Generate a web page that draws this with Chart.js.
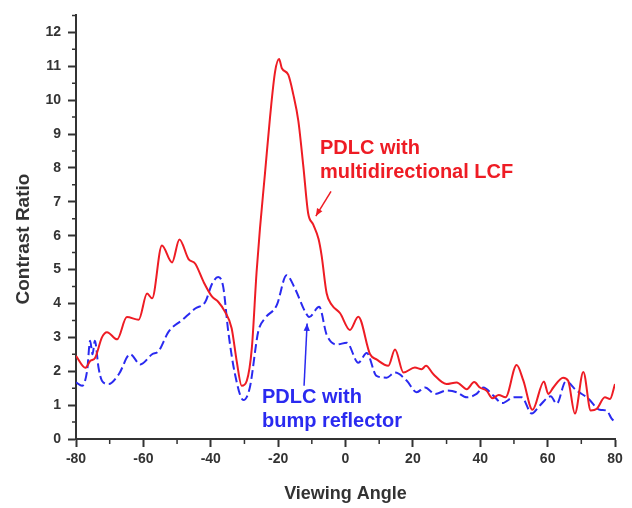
<!DOCTYPE html>
<html>
<head>
<meta charset="utf-8">
<script src="https://cdn.jsdelivr.net/npm/chart.js@4/dist/chart.umd.min.js"></script>
<style>
  html, body { margin: 0; padding: 0; background: #fff; }
  #wrap { width: 632px; height: 508px; }
</style>
</head>
<body>
<div id="wrap"><canvas id="chart"></canvas></div>
<script>
// PDLC with multidirectional LCF (red, solid)
const lcfAngle = [-80, -77.2, -75.8, -74.3, -72.3, -70.8, -67.8, -64.9, -61.4, -58.9, -57.4, -54.5, -51.5, -49.3, -46.6, -44.6, -42.1, -39.6, -37.8, -35.8, -33.8, -32.3, -30.8, -29.3, -27.8, -26.4, -25.4, -23.9, -22.4, -20.9, -19.7, -18.9, -17.0, -15.5, -14.0, -12.5, -11.1, -9.6, -8.0, -7.1, -5.6, -4.1, -1.6, 1.3, 3.8, 7.3, 9.2, 12.7, 14.7, 17.2, 20.6, 22.6, 23.9, 26.1, 30.0, 33.0, 36.0, 38.2, 39.9, 41.9, 43.6, 45.5, 47.5, 50.8, 52.8, 55.5, 58.9, 60.2, 61.7, 64.6, 66.1, 68.1, 70.6, 72.8, 74.6, 77.0, 78.5, 80];
const lcfRatio = [2.45, 2.1, 2.3, 2.4, 3.0, 3.15, 2.94, 3.6, 3.52, 4.29, 4.15, 5.71, 5.21, 5.89, 5.31, 5.17, 4.63, 4.2, 4.05, 3.76, 3.27, 2.3, 1.57, 1.72, 2.69, 4.92, 6.2, 7.84, 9.5, 10.84, 11.21, 10.94, 10.75, 10.17, 9.39, 8.03, 6.67, 6.33, 5.9, 5.42, 4.3, 3.96, 3.71, 3.22, 3.61, 2.5, 2.35, 2.16, 2.64, 1.96, 2.11, 2.06, 2.16, 1.91, 1.62, 1.67, 1.47, 1.68, 1.52, 1.42, 1.2, 1.3, 1.23, 2.18, 1.72, 0.86, 1.7, 1.33, 1.52, 1.81, 1.72, 0.75, 1.98, 0.84, 0.89, 1.23, 1.18, 1.62];

// PDLC with bump reflector (blue, dashed)
const bumpAngle = [-80, -78.2, -76.7, -75.8, -75.1, -74.4, -73.3, -72.3, -70.3, -67.3, -63.9, -60.9, -57.4, -55.5, -52.5, -48.5, -44.6, -41.6, -39.6, -37.8, -36.3, -34.8, -32.8, -30.3, -28.4, -25.9, -23.9, -20.4, -17.5, -15.0, -12.0, -10.8, -7.8, -5.6, -2.6, 0.4, 3.8, 6.3, 9.2, 12.2, 14.7, 18.2, 21.1, 23.6, 26.6, 30.0, 33.0, 36.0, 38.9, 40.9, 43.9, 46.5, 50.0, 52.3, 55.3, 57.7, 60.9, 62.7, 65.4, 68.6, 72.0, 75.5, 77.5, 79.0, 80];
const bumpRatio = [1.67, 1.57, 2.01, 2.9, 2.5, 2.9, 2.1, 1.72, 1.62, 1.91, 2.5, 2.2, 2.5, 2.59, 3.17, 3.51, 3.85, 4.05, 4.58, 4.78, 4.49, 3.17, 1.91, 1.15, 1.52, 3.17, 3.56, 3.95, 4.83, 4.44, 3.76, 3.6, 3.9, 3.08, 2.79, 2.84, 2.25, 2.54, 1.86, 1.81, 1.96, 1.72, 1.38, 1.52, 1.33, 1.43, 1.38, 1.23, 1.33, 1.52, 1.28, 1.06, 1.23, 1.23, 0.75, 0.99, 1.26, 1.04, 1.7, 1.43, 1.2, 0.86, 0.84, 0.6, 0.5];

const xTicks = [-80, -60, -40, -20, 0, 20, 40, 60, 80];
const yTicks = [0, 1, 2, 3, 4, 5, 6, 7, 8, 9, 10, 11, 12];

const red = "#ee1c24";
const blue = "#2a2af0";
const axisColor = "#333";

function pts(xs, ys) {
  return xs.map((x, i) => ({x: x, y: ys[i]}));
}

// notes placed in data units, converted through the scales
const notes = [
  {lines: ["PDLC with", "multidirectional LCF"], x: -7.6, y: 8.42, color: red, arrow: [-4.3, 7.31, -8.8, 6.58]},
  {lines: ["PDLC with", "bump reflector"], x: -24.8, y: 1.05, color: blue, arrow: [-12.3, 1.57, -11.4, 3.41]}
];

const extras = {
  id: "extras",
  afterDraw(chart) {
    const ctx = chart.ctx;
    const xs = chart.scales.x, ys = chart.scales.y;
    const base = ys.getPixelForValue(0), left = xs.getPixelForValue(-80);
    ctx.save();
    // minor ticks
    ctx.strokeStyle = axisColor;
    ctx.lineWidth = 1.5;
    ctx.beginPath();
    for (let v = -70; v <= 70; v += 20) {
      const p = xs.getPixelForValue(v);
      ctx.moveTo(p, base); ctx.lineTo(p, base + 5);
    }
    for (let v = 0.5; v <= 12.5; v += 1) {
      const p = ys.getPixelForValue(v);
      ctx.moveTo(left, p); ctx.lineTo(left - 4, p);
    }
    ctx.stroke();

    // y axis title, a bit below the centre like the original
    ctx.save();
    ctx.translate(24, ys.getPixelForValue(5.9));
    ctx.rotate(-Math.PI / 2);
    ctx.font = "bold 19px 'Liberation Sans', Arial, sans-serif";
    ctx.fillStyle = "#333";
    ctx.textAlign = "center";
    ctx.textBaseline = "middle";
    ctx.fillText("Contrast Ratio", 0, 0);
    ctx.restore();

    // labels and arrows
    ctx.font = "bold 20px 'Liberation Sans', Arial, sans-serif";
    ctx.textBaseline = "alphabetic";
    notes.forEach(n => {
      ctx.fillStyle = n.color;
      const tx = xs.getPixelForValue(n.x);
      const ty = ys.getPixelForValue(n.y);
      n.lines.forEach((t, i) => ctx.fillText(t, tx, ty + i * 24));
      const [ax0, ay0, ax1, ay1] = n.arrow;
      const x0 = xs.getPixelForValue(ax0), y0 = ys.getPixelForValue(ay0);
      const x1 = xs.getPixelForValue(ax1), y1 = ys.getPixelForValue(ay1);
      ctx.strokeStyle = n.color;
      ctx.lineWidth = 1.5;
      ctx.beginPath(); ctx.moveTo(x0, y0); ctx.lineTo(x1, y1); ctx.stroke();
      const a = Math.atan2(y1 - y0, x1 - x0);
      ctx.beginPath();
      ctx.moveTo(x1, y1);
      ctx.lineTo(x1 - 8 * Math.cos(a - 0.4), y1 - 8 * Math.sin(a - 0.4));
      ctx.lineTo(x1 - 8 * Math.cos(a + 0.4), y1 - 8 * Math.sin(a + 0.4));
      ctx.closePath();
      ctx.fill();
    });
    ctx.restore();
  }
};

const tickFont = {family: "'Liberation Sans', Arial, sans-serif", size: 14, weight: "bold"};

new Chart(document.getElementById("chart"), {
  type: "line",
  data: {
    datasets: [
      {label: "PDLC with multidirectional LCF", data: pts(lcfAngle, lcfRatio), borderColor: red, borderWidth: 2, pointRadius: 0, cubicInterpolationMode: "monotone"},
      {label: "PDLC with bump reflector", data: pts(bumpAngle, bumpRatio), borderColor: blue, borderWidth: 2, borderDash: [9, 4], pointRadius: 0, cubicInterpolationMode: "monotone"}
    ]
  },
  options: {
    responsive: true,
    maintainAspectRatio: false,
    animation: false,
    layout: {padding: {left: 0, right: 17, top: 10, bottom: 0}},
    plugins: {legend: {display: false}, tooltip: {enabled: false}},
    scales: {
      x: {
        type: "linear",
        min: -80, max: 80,
        afterBuildTicks: s => { s.ticks = xTicks.map(v => ({value: v})); },
        afterFit: s => { s.height = 69; },
        grid: {drawOnChartArea: false, tickLength: 8, tickColor: axisColor, tickWidth: 2},
        border: {color: axisColor, width: 2},
        ticks: {color: "#333", font: tickFont, padding: 4, maxRotation: 0},
        title: {display: true, text: "Viewing Angle", color: "#333", font: {family: "'Liberation Sans', Arial, sans-serif", size: 18, weight: "bold"}, padding: {top: 0, bottom: 3}}
      },
      y: {
        min: 0, max: 12.5,
        afterBuildTicks: s => { s.ticks = yTicks.map(v => ({value: v})); },
        afterFit: s => { s.width = 76; },
        grid: {drawOnChartArea: false, tickLength: 8, tickColor: axisColor, tickWidth: 2},
        border: {color: axisColor, width: 2},
        ticks: {color: "#333", font: tickFont, padding: 7}
      }
    }
  },
  plugins: [extras]
});
</script>
</body>
</html>
